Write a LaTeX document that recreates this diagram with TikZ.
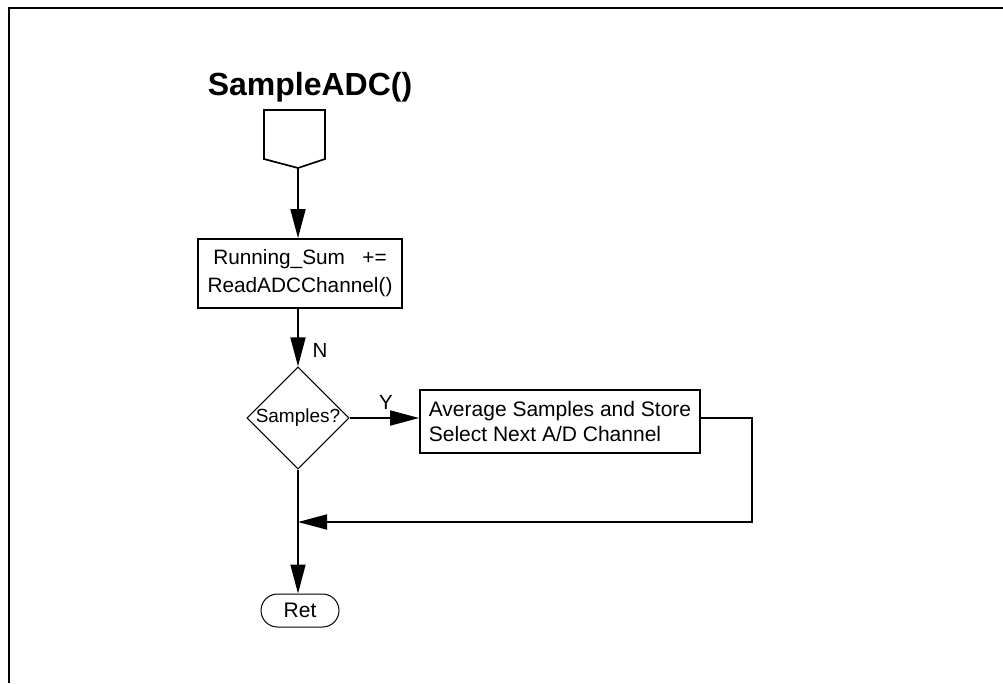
\documentclass[tikz,border=0pt]{standalone}
\usepackage{fontspec}
\setmainfont{Liberation Sans}
\usetikzlibrary{arrows.meta,shapes.geometric,shapes.misc}

\tikzset{
  box/.style={draw, rectangle, line width=1.7pt, inner sep=0pt, font=\fontsize{20.8}{28}\selectfont},
  decision/.style={draw, diamond, line width=1pt, inner sep=0pt, minimum width=100pt, minimum height=100pt, font=\fontsize{19}{20}\selectfont},
  terminal/.style={draw, rounded rectangle, line width=1pt, inner sep=0pt, minimum width=78pt, minimum height=33pt, font=\fontsize{21}{24}\selectfont},
  flow/.style={line width=1.7pt, -{Triangle[length=29pt,width=15pt]}},
  lab/.style={inner sep=0pt, font=\fontsize{20.5}{24}\selectfont}
}

\begin{document}
\begin{tikzpicture}[x=1pt,y=-1pt]
        \useasboundingbox (0,0) rectangle (1003,683);
        % Frame
        \draw[line width=2pt] (9,683) -- (9,8) -- (1003,8);
        % Title
        \node[font=\bfseries\fontsize{32}{36}\selectfont] (title) at (310,87) {SampleADC()};
        % Entry
        \draw[line width=1.7pt] (264,110) -- (325,110) -- (325,159) -- (298,168) -- (264,159) -- cycle;
        \coordinate (entry) at (298,168);
        % Steps
        \node[box, minimum width=204pt, minimum height=69pt, align=center] (sum) at (300,273.5)
            {Running\_Sum\ \ \ +=\\ReadADCChannel()};
        \node[decision] (dec) at (298,418) {Samples?};
        \node[box, minimum width=280pt, minimum height=63pt, align=left, font=\fontsize{21}{25}\selectfont] (avg) at (560,421.5)
            {Average Samples and Store\\Select Next A/D Channel};
        \node[terminal] (ret) at (300,610.5) {Ret};
        \coordinate (loop) at (752,522);
        \coordinate (join) at (298,522);
        % Labels
        \node[lab] (nlab) at (320,350) {N};
        \node[lab] (ylab) at (386,402) {Y};
        % Connectors
        \draw[flow] (entry) -- (entry |- sum.north);
        \draw[flow] (sum.south -| dec) -- (dec.north);
        \draw[flow] (dec.east) -- (dec.east -| avg.west);
        \draw[flow] (dec.east -| avg.east) -- (dec.east -| loop) -- (loop) -- (join);
        \draw[flow] (dec.south) -- (ret.north -| dec);
\end{tikzpicture}
\end{document}
